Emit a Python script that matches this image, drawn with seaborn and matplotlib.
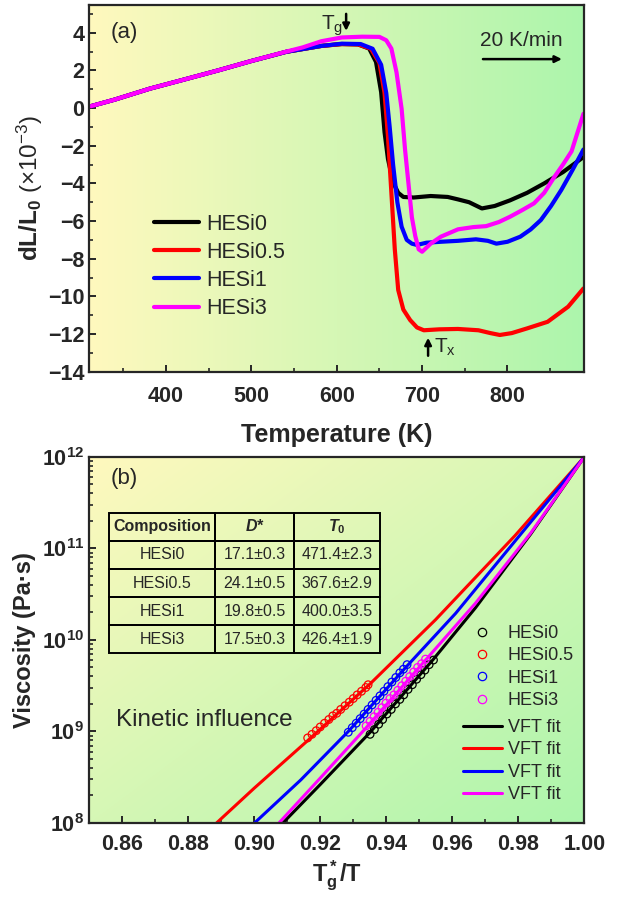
import numpy as np
import pandas as pd
import seaborn as sns
import matplotlib.pyplot as plt
from matplotlib.lines import Line2D
from matplotlib.ticker import MultipleLocator, LogLocator, NullFormatter

# -------- DATA: panel (a) dilatometry --------
alloys = ['HESi0', 'HESi0.5', 'HESi1', 'HESi3']
colors = ['black', 'red', 'blue', 'magenta']

T_hesi0 = [312, 340, 381, 420, 461, 500, 541, 582, 606, 625, 638, 646, 652, 656, 660, 666, 672, 678,
           690, 710, 730, 742, 755, 770, 785, 803, 823, 843, 865, 889]
dL_hesi0 = [0.10, 0.45, 1.03, 1.50, 2.00, 2.50, 2.99, 3.30, 3.40, 3.38, 3.16, 2.45, 0.85, -1.28, -2.70,
            -3.95, -4.50, -4.72, -4.75, -4.67, -4.72, -4.85, -5.00, -5.33, -5.20, -4.90, -4.50, -4.00,
            -3.40, -2.60]

T_hesi05 = [312, 340, 381, 420, 461, 500, 541, 582, 606, 625, 640, 650, 656, 660, 664, 668, 672, 678,
            686, 694, 702, 720, 742, 766, 780, 791, 805, 823, 847, 871, 889]
dL_hesi05 = [0.10, 0.45, 1.03, 1.50, 2.00, 2.50, 2.99, 3.30, 3.40, 3.38, 3.15, 2.40, 0.80, -1.50, -4.50,
             -7.50, -9.66, -10.70, -11.26, -11.65, -11.80, -11.75, -11.73, -11.80, -11.95, -12.05, -11.95,
             -11.70, -11.35, -10.55, -9.58]

T_hesi1 = [312, 340, 381, 420, 461, 500, 541, 582, 606, 628, 642, 652, 658, 662, 666, 671, 676, 682, 688,
           694, 705, 722, 742, 763, 777, 787, 800, 815, 827, 839, 851, 863, 876, 889]
dL_hesi1 = [0.10, 0.45, 1.03, 1.50, 2.00, 2.50, 2.99, 3.30, 3.42, 3.40, 3.15, 2.30, 0.80, -1.00, -3.00,
            -5.00, -6.30, -7.00, -7.20, -7.27, -7.15, -7.10, -7.05, -6.97, -7.05, -7.20, -7.10, -6.83,
            -6.45, -5.95, -5.20, -4.35, -3.30, -2.20]

T_hesi3 = [312, 340, 381, 420, 461, 500, 541, 560, 582, 606, 630, 650, 658, 664, 670, 676, 680, 684, 688,
           692, 696, 700, 710, 722, 742, 760, 775, 790, 803, 818, 831, 843, 855, 865, 875, 889]
dL_hesi3 = [0.10, 0.45, 1.03, 1.50, 2.00, 2.50, 3.00, 3.22, 3.55, 3.75, 3.79, 3.78, 3.60, 3.16, 1.90,
            -0.04, -2.20, -4.00, -5.80, -6.80, -7.50, -7.63, -7.20, -6.83, -6.44, -6.32, -6.27, -6.05,
            -5.77, -5.40, -5.06, -4.50, -3.65, -3.00, -2.30, -0.30]

# -------- DATA: panel (b) viscosity (points in 1e9 Pa s) --------
x_pts_hesi0 = [0.9351, 0.9364, 0.9377, 0.9389, 0.9402, 0.9415, 0.9428, 0.9441, 0.9453, 0.9466, 0.9479,
               0.9492, 0.9505, 0.9517, 0.9530, 0.9543]
eta_pts_hesi0 = [0.93, 1.05, 1.20, 1.35, 1.55, 1.74, 2.00, 2.24, 2.51, 2.88, 3.24, 3.72, 4.17, 4.68, 5.37, 6.03]
x_pts_hesi05 = [0.9162, 0.9175, 0.9188, 0.9200, 0.9213, 0.9226, 0.9238, 0.9250, 0.9262, 0.9275, 0.9288,
                0.9300, 0.9312, 0.9325, 0.9338, 0.9345]
eta_pts_hesi05 = [0.85, 0.93, 1.02, 1.12, 1.23, 1.35, 1.48, 1.58, 1.74, 1.91, 2.09, 2.29, 2.51, 2.75, 3.02, 3.24]
x_pts_hesi1 = [0.9285, 0.9297, 0.9309, 0.9321, 0.9333, 0.9345, 0.9357, 0.9369, 0.9381, 0.9393, 0.9405,
               0.9417, 0.9429, 0.9441, 0.9452, 0.9463]
eta_pts_hesi1 = [0.98, 1.10, 1.23, 1.38, 1.55, 1.74, 1.95, 2.19, 2.45, 2.75, 3.09, 3.47, 3.89, 4.37, 4.79, 5.37]
x_pts_hesi3 = [0.9339, 0.9351, 0.9363, 0.9375, 0.9387, 0.9399, 0.9411, 0.9423, 0.9435, 0.9447, 0.9459,
               0.9471, 0.9483, 0.9495, 0.9507, 0.9519]
eta_pts_hesi3 = [1.15, 1.29, 1.45, 1.62, 1.82, 2.04, 2.29, 2.51, 2.82, 3.16, 3.55, 3.98, 4.47, 5.01, 5.50, 6.17]

# VFT fit curves (x, log10 viscosity)
x_fit_hesi0 = [0.9087, 0.9200, 0.9351, 0.9543, 0.9670, 0.9838, 1.0]
log_fit_hesi0 = [8.00, 8.42, 8.99, 9.79, 10.35, 11.16, 12.0]
x_fit_hesi05 = [0.8886, 0.9000, 0.9165, 0.9351, 0.9549, 0.9790, 1.0]
log_fit_hesi05 = [8.00, 8.38, 8.91, 9.52, 10.22, 11.14, 12.0]
x_fit_hesi1 = [0.9001, 0.9141, 0.9285, 0.9459, 0.9610, 0.9790, 1.0]
log_fit_hesi1 = [8.00, 8.47, 9.00, 9.70, 10.29, 11.08, 12.0]
x_fit_hesi3 = [0.9075, 0.9200, 0.9339, 0.9519, 0.9670, 0.9838, 1.0]
log_fit_hesi3 = [8.00, 8.49, 9.04, 9.78, 10.40, 11.17, 12.0]

# table values
table_header = ['Composition', 'D*', 'T$_\\mathbf{0}$']
d_star = ['17.1±0.3', '24.1±0.5', '19.8±0.5', '17.5±0.3']
t_zero = ['471.4±2.3', '367.6±2.9', '400.0±3.5', '426.4±1.9']

# -------- BUILD TABLES --------
df_a = pd.concat([
    pd.DataFrame({'T': t, 'dL': d, 'Alloy': a})
    for t, d, a in zip([T_hesi0, T_hesi05, T_hesi1, T_hesi3],
                       [dL_hesi0, dL_hesi05, dL_hesi1, dL_hesi3], alloys)
], ignore_index=True)

df_pts = pd.concat([
    pd.DataFrame({'x': x, 'eta': np.array(e) * 1e9, 'Alloy': a})
    for x, e, a in zip([x_pts_hesi0, x_pts_hesi05, x_pts_hesi1, x_pts_hesi3],
                       [eta_pts_hesi0, eta_pts_hesi05, eta_pts_hesi1, eta_pts_hesi3], alloys)
], ignore_index=True)

df_fit = pd.concat([
    pd.DataFrame({'x': x, 'eta': 10.0 ** np.array(l), 'Alloy': a})
    for x, l, a in zip([x_fit_hesi0, x_fit_hesi05, x_fit_hesi1, x_fit_hesi3],
                       [log_fit_hesi0, log_fit_hesi05, log_fit_hesi1, log_fit_hesi3], alloys)
], ignore_index=True)

palette = dict(zip(alloys, colors))

# -------- STYLE --------
sns.set_style('ticks')
plt.rcParams['font.family'] = ['Liberation Sans', 'DejaVu Sans']
plt.rcParams['mathtext.fontset'] = 'custom'
plt.rcParams['mathtext.rm'] = 'Liberation Sans'
plt.rcParams['mathtext.it'] = 'Liberation Sans:italic'
plt.rcParams['mathtext.bf'] = 'Liberation Sans:bold'

fig = plt.figure(figsize=(6.19, 9.0), dpi=100)
rect_a = [0.144, 0.587, 0.800, 0.408]
rect_b = [0.144, 0.0856, 0.800, 0.4067]


def gradient_bg(rect, diagonal):
    bg = fig.add_axes(rect, zorder=0)
    xx, yy = np.meshgrid(np.linspace(0, 1, 300), np.linspace(0, 1, 300))
    t = (xx + yy) / 2 if diagonal else xx
    c0 = np.array([255, 249, 190]) / 255
    c1 = np.array([172, 245, 172]) / 255
    bg.imshow(c0 + (c1 - c0) * t[..., None], extent=[0, 1, 0, 1], aspect='auto')
    bg.axis('off')


gradient_bg(rect_a, False)
gradient_bg(rect_b, True)
ax1 = fig.add_axes(rect_a, zorder=1)
ax2 = fig.add_axes(rect_b, zorder=1)
for ax in (ax1, ax2):
    ax.set_facecolor('none')
    for s in ax.spines.values():
        s.set_linewidth(1.6)
    ax.tick_params(direction='in', width=1.4, length=5, labelsize=15.5)
    ax.tick_params(which='minor', direction='in', width=1.2, length=3)
ax1.tick_params(axis='x', pad=10)
ax2.tick_params(axis='x', pad=8)

# -------- PANEL (a) --------
sns.lineplot(data=df_a, x='T', y='dL', hue='Alloy', palette=palette, lw=3, sort=False,
             estimator=None, ax=ax1)
ax1.set_xlim(310, 890)
ax1.set_ylim(-14, 5.5)
ax1.set_xticks([400, 500, 600, 700, 800])
ax1.xaxis.set_minor_locator(MultipleLocator(50))
ax1.set_yticks(range(-14, 5, 2))
ax1.yaxis.set_minor_locator(MultipleLocator(1))
for lbl in ax1.get_xticklabels() + ax1.get_yticklabels():
    lbl.set_fontweight('bold')
ax1.set_xlabel('Temperature (K)', fontsize=18, fontweight='bold', labelpad=12)
ax1.set_ylabel(r'$\mathbf{dL/L_0}\ \mathrm{(\times10^{-3})}$', fontsize=17.5, labelpad=2)
ax1.legend(loc='upper left', bbox_to_anchor=(0.131, 0.43), frameon=False, fontsize=15.5,
           handlelength=2.1, labelspacing=0.33, handletextpad=0.32, borderpad=0, borderaxespad=0)
ax1.text(335, 4.0, '(a)', fontsize=16, va='center')
ax1.text(816, 3.6, '20 K/min', fontsize=15, ha='center', va='center')
ax1.annotate('', xy=(867, 2.6), xytext=(768, 2.6),
             arrowprops=dict(arrowstyle='-|>', lw=1.8, color='black', mutation_scale=10))
ax1.annotate('', xy=(611, 3.95), xytext=(611, 5.15),
             arrowprops=dict(arrowstyle='-|>', lw=1.8, color='black', mutation_scale=10))
ax1.text(607, 4.35, r'$\mathrm{T_g}$', fontsize=15, ha='right', va='center')
ax1.annotate('', xy=(707, -12.05), xytext=(707, -13.3),
             arrowprops=dict(arrowstyle='-|>', lw=1.8, color='black', mutation_scale=10))
ax1.text(714, -12.7, r'$\mathrm{T_x}$', fontsize=15, ha='left', va='center')

# -------- PANEL (b) --------
sns.lineplot(data=df_fit, x='x', y='eta', hue='Alloy', palette=palette, lw=2.2, sort=False,
             estimator=None, ax=ax2, legend=False)
sns.scatterplot(data=df_pts, x='x', y='eta', hue='Alloy', palette=palette, s=30, marker='o',
                linewidth=0.9, ax=ax2, legend=False, zorder=3)
coll = ax2.collections[-1]
coll.set_edgecolors(coll.get_facecolors())
coll.set_facecolors('none')

ax2.set_yscale('log')
ax2.set_xlim(0.85, 1.0)
ax2.set_ylim(1e8, 1e12)
ax2.set_xticks(np.arange(0.86, 1.001, 0.02))
ax2.set_xticklabels([f'{v:.2f}' for v in np.arange(0.86, 1.001, 0.02)], fontweight='bold')
ax2.xaxis.set_minor_locator(MultipleLocator(0.01))
ax2.set_yticks([1e8, 1e9, 1e10, 1e11, 1e12])
ax2.set_yticklabels([r'$\mathbf{10^{%d}}$' % p for p in range(8, 13)])
ax2.yaxis.set_minor_locator(LogLocator(base=10, subs=np.arange(2, 10), numticks=20))
ax2.yaxis.set_minor_formatter(NullFormatter())
ax2.set_xlabel(r'$\mathbf{T_g^*/T}$', fontsize=17, labelpad=3)
ax2.set_ylabel('Viscosity (Pa·s)', fontsize=17, fontweight='bold')
ax2.text(0.8565, 10 ** 11.76, '(b)', fontsize=16, va='center')
ax2.text(0.8582, 10 ** 9.13, 'Kinetic influence', fontsize=17.5, va='center')

pt_handles = [Line2D([], [], ls='none', marker='o', mfc='none', mec=c, ms=6, mew=0.9) for c in colors]
ln_handles = [Line2D([], [], color=c, lw=2.2) for c in colors]
leg_kw = dict(frameon=False, fontsize=13, handlelength=2.2, labelspacing=0.3, handletextpad=0.3,
              borderpad=0, borderaxespad=0, loc='upper left')
leg_pts = ax2.legend(pt_handles, alloys, bbox_to_anchor=(0.754, 0.541), **leg_kw)
ax2.add_artist(leg_pts)
ax2.legend(ln_handles, ['VFT fit'] * 4, bbox_to_anchor=(0.754, 0.284), **leg_kw)

rows = [[a, d, t] for a, d, t in zip(alloys, d_star, t_zero)]
tbl = ax2.table(cellText=rows, colLabels=table_header, cellLoc='center',
                colWidths=[0.391, 0.292, 0.317], bbox=[0.040, 0.464, 0.548, 0.383])
tbl.auto_set_font_size(False)
tbl.set_fontsize(11.5)
for (r, c), cell in tbl.get_celld().items():
    cell.set_facecolor('none')
    cell.set_edgecolor('black')
    cell.set_linewidth(1.4)
    if r == 0:
        cell.get_text().set_fontweight('bold')
        if c > 0:
            cell.get_text().set_fontstyle('italic')

fig.savefig('out.png', dpi=100)
